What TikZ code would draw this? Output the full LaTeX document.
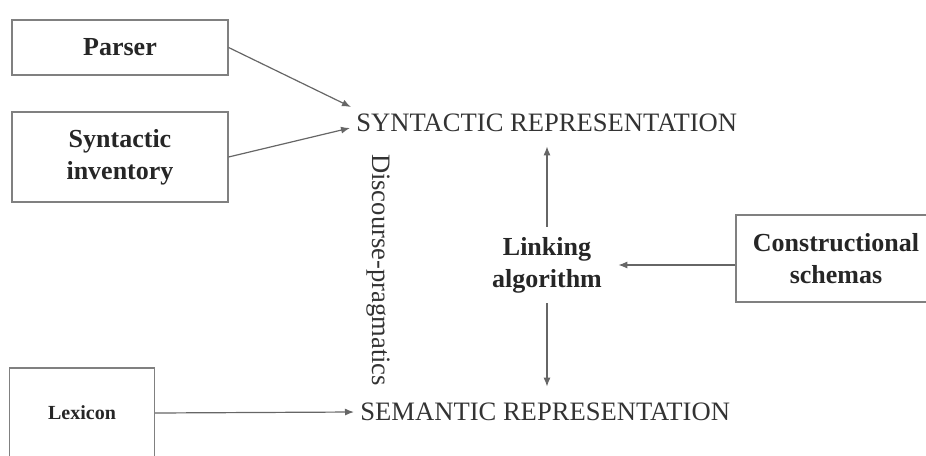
\documentclass[tikz,border=0pt]{standalone}
\usepackage{fontspec}
\setmainfont{Liberation Serif}
\usetikzlibrary{positioning,arrows.meta}

\begin{document}
\begin{tikzpicture}
           [x=0.5pt, y=-0.5pt,
            box/.style = {draw=black!50, line width=0.6pt, align=center, inner sep=0pt,
                          font=\fontsize{13}{16}\selectfont\bfseries, text=black!85},
            rep/.style = {font=\fontsize{13.3}{16}\selectfont, text=black!80, inner sep=1pt},
            arr/.style = {-{Latex[length=4.5pt,width=3.5pt]}, draw=black!60, line width=0.6pt}]
            \useasboundingbox (0,0) rectangle (926,455);
            \clip (0,0) rectangle (926,455);

            \node[box, minimum width=108pt, minimum height=27.5pt] (parser) at (120,47.5) {Parser};
            \node[box, minimum width=108pt, minimum height=45pt] (inventory) at (120,157) {Syntactic\\inventory};
            \node[box, minimum width=72.5pt, minimum height=45pt,
                  font=\fontsize{10}{13}\selectfont\bfseries] (lexicon) at (82,413) {Lexicon};
            \node[box, minimum width=100pt, minimum height=43.5pt] (schemas) at (836,258.5) {Constructional\\schemas};

            \node[rep, anchor=west] (syn) at (354,123) {SYNTACTIC REPRESENTATION};
            \node[rep, anchor=west] (sem) at (358,412) {SEMANTIC REPRESENTATION};
            \node[rep, rotate=-90] (discourse) at (378,270) {Discourse-pragmatics};
            \node[align=center, inner sep=5pt, text=black!85,
                  font=\fontsize{13}{16}\selectfont\bfseries] (link) at (547,265) {Linking\\algorithm};

            \path (parser.east) edge[arr] ([shift={(-3,-16)}]syn.west);
            \path (inventory.east) edge[arr] ([shift={(-4,5)}]syn.west);
            \path (lexicon.east) edge[arr] ([xshift=-2pt]sem.west);
            \path (link.east -| schemas.west) edge[arr] ([xshift=3pt]link.east);
            \path (link.north) edge[arr] ([yshift=-6pt]link.north |- syn.south);
            \path (link.south) edge[arr] ([yshift=7pt]link.south |- sem.north);
        \end{tikzpicture}
\end{document}
